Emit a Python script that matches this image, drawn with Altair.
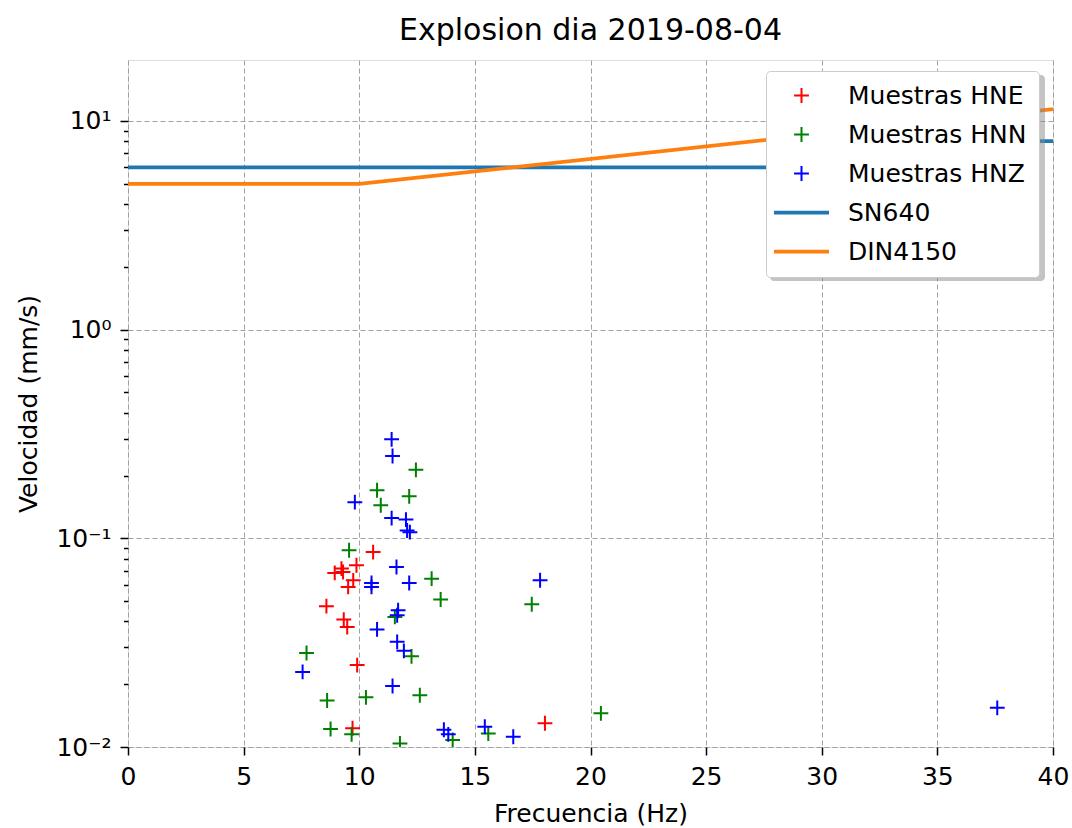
import altair as alt
import pandas as pd

# ---- data ----
hne_f = [10.60, 9.88, 9.30, 8.94, 9.23, 9.74, 9.52, 8.58, 9.33, 9.48, 9.91, 9.71, 18.03]
hne_v = [0.0859, 0.0743, 0.0690, 0.0683, 0.0716, 0.0629, 0.0585, 0.0473, 0.0408, 0.0376, 0.0247, 0.0123, 0.0130]

hnn_f = [12.45, 10.77, 12.16, 10.93, 9.56, 13.13, 13.52, 11.54, 7.72, 12.26, 8.61, 10.29, 12.62,
         8.76, 9.67, 11.76, 14.04, 15.58, 17.46, 20.45]
hnn_v = [0.213, 0.170, 0.159, 0.144, 0.0877, 0.0641, 0.0509, 0.0420, 0.0282, 0.0272, 0.0167, 0.0173, 0.0177,
         0.0122, 0.0115, 0.0104, 0.0108, 0.0116, 0.0483, 0.0145]

hnz_f = [11.40, 11.44, 9.81, 11.40, 12.02, 12.07, 12.19, 11.61, 10.53, 10.53, 12.16, 11.68, 11.64,
         10.77, 11.64, 11.93, 7.55, 11.44, 13.66, 13.85, 15.43, 16.66, 17.82, 37.59]
hnz_v = [0.298, 0.248, 0.149, 0.125, 0.123, 0.109, 0.107, 0.0729, 0.0611, 0.0585, 0.0611, 0.0452, 0.0428,
         0.0366, 0.0319, 0.0289, 0.0229, 0.0196, 0.0121, 0.0115, 0.0125, 0.0112, 0.0630, 0.0154]

sn640_f = [0, 30, 30, 40]
sn640_v = [6, 6, 8, 8]
din4150_f = [0, 10, 50]
din4150_v = [5, 5, 15]

series = ["Muestras HNE", "Muestras HNN", "Muestras HNZ", "SN640", "DIN4150"]
colors = ["red", "green", "blue", "#1f77b4", "#ff7f0e"]

x_ticks = [0, 5, 10, 15, 20, 25, 30, 35, 40]
y_ticks = [m * 10.0 ** e for e in (-2, -1, 0) for m in range(1, 10)] + [10.0]

# ---- tables ----
pts = pd.concat([
    pd.DataFrame({"f": hne_f, "v": hne_v, "serie": series[0]}),
    pd.DataFrame({"f": hnn_f, "v": hnn_v, "serie": series[1]}),
    pd.DataFrame({"f": hnz_f, "v": hnz_v, "serie": series[2]}),
], ignore_index=True)

lines = pd.concat([
    pd.DataFrame({"f": sn640_f, "v": sn640_v, "serie": series[3], "o": range(len(sn640_f))}),
    pd.DataFrame({"f": din4150_f, "v": din4150_v, "serie": series[4], "o": range(len(din4150_f))}),
], ignore_index=True)

FONT = "DejaVu Sans"
plus = "M-0.27,0H0.27M0,-0.27V0.27"
shapes = [plus, plus, plus, "stroke", "stroke"]

is_pow = "abs(log(datum.value)/LN10 - round(log(datum.value)/LN10)) < 0.001"
label_expr = (
    "(" + is_pow + ") ? '10' + replace(replace(replace(replace(replace("
    "'' + round(log(datum.value)/LN10), '-', '\u207b'), '0', '\u2070'), '1', '\u00b9'), '2', '\u00b2'), '3', '\u00b3') : ''"
)

x_enc = alt.X(
    "f:Q",
    scale=alt.Scale(domain=[0, 40], nice=False),
    axis=alt.Axis(
        values=x_ticks, title="Frecuencia (Hz)", format="d",
        labelFontSize=25, titleFontSize=25, labelFont=FONT, titleFont=FONT,
        labelColor="black", titleColor="black", titleFontWeight="normal",
        tickSize=8, tickWidth=1.5, tickColor="black", labelPadding=9, titlePadding=12,
        domain=False, grid=True, gridDash=[5, 3], gridColor="#a0a0a0", gridWidth=1,
        labelFlush=False,
    ),
)
y_enc = alt.Y(
    "v:Q",
    scale=alt.Scale(type="log", domain=[0.01, 19.6], nice=False),
    axis=alt.Axis(
        values=y_ticks, title="Velocidad (mm/s)", labelExpr=label_expr,
        labelFontSize=25, titleFontSize=25, labelFont=FONT, titleFont=FONT,
        labelColor="black", titleColor="black", titleFontWeight="normal",
        tickSize={"condition": {"test": is_pow, "value": 8}, "value": 4.5},
        tickWidth=1.5, tickColor="black", labelPadding=9, titlePadding=14,
        domain=False, grid=True, gridDash=[5, 3], gridColor="#a0a0a0", gridWidth=1,
        gridOpacity={"condition": {"test": is_pow, "value": 1}, "value": 0},
        labelFlush=False, labelOverlap=False,
    ),
)

legend = alt.Legend(
    title=None, orient="none", legendX=638, legendY=11,
    fillColor="#ffffff", strokeColor="#cccccc", cornerRadius=4,
    padding=12, labelFontSize=25, labelFont=FONT, labelColor="black", labelLimit=400,
    symbolSize=3025, symbolOffset=11, labelOffset=34, rowPadding=13,
    symbolStrokeWidth=alt.ExprRef("(datum.value === 'SN640' || datum.value === 'DIN4150') ? 3.75 : 2"),
    symbolFillColor="transparent",
)

color_scale = alt.Scale(domain=series, range=colors)

shadow = alt.Chart(pd.DataFrame({"k": [0]})).mark_rect(
    color="#8a8a8a", opacity=0.5, cornerRadius=4
).encode(
    x=alt.value(642), x2=alt.value(917), y=alt.value(15), y2=alt.value(221)
)

points = alt.Chart(pts).mark_point(
    filled=False, size=3025, strokeWidth=2, opacity=1, clip=True
).encode(
    x=x_enc, y=y_enc,
    color=alt.Color("serie:N", scale=color_scale, legend=legend),
    shape=alt.Shape("serie:N", scale=alt.Scale(domain=series, range=shapes), legend=legend),
)

rules = alt.Chart(lines).mark_line(strokeWidth=3.75, clip=True).encode(
    x="f:Q", y="v:Q",
    color=alt.Color("serie:N", scale=color_scale, legend=legend),
    order="o:Q",
)

chart = alt.layer(points, rules, shadow).properties(
    width=925, height=687,
    autosize=alt.AutoSizeParams(type="none"),
    padding={"left": 128, "top": 60, "right": 19, "bottom": 81},
    title=alt.TitleParams(
        "Explosion dia 2019-08-04", fontSize=30, font=FONT, fontWeight="normal",
        color="black", anchor="middle", offset=14,
    ),
).configure_view(
    stroke="black", strokeWidth=1.5
).configure(
    font=FONT, background="white"
)

chart.save("out.html", embed_options={"renderer": "svg", "actions": False})
